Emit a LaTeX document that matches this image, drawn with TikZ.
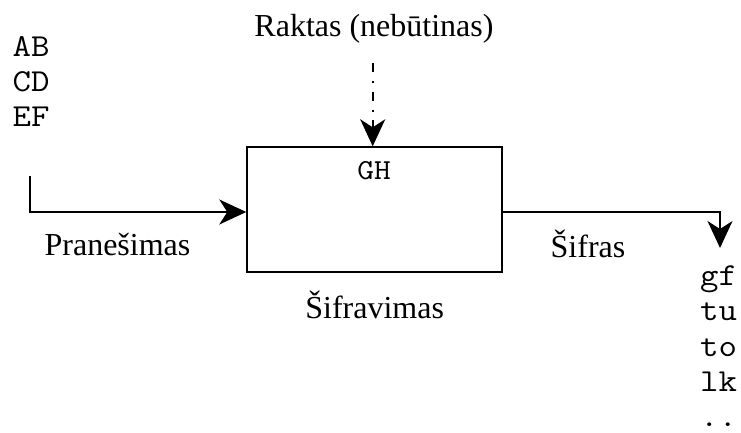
\documentclass[tikz,border=0pt]{standalone}
\usepackage{fontspec}
\setmainfont{Liberation Serif}
\newfontfamily\typewriter[FakeStretch=1.12]{Latin Modern Mono}
\usetikzlibrary{arrows.meta}
\begin{document}
\begin{tikzpicture}[x=1pt,y=-1pt,
  label/.style={font=\fontsize{32}{36}\selectfont, inner sep=0pt, anchor=base},
  listing/.style={font=\typewriter\fontsize{32}{35.2}\selectfont, inner sep=0pt, align=left, anchor=base west},
  process/.style={draw, line width=2pt, minimum width=254.4pt, minimum height=124.4pt, inner sep=0pt},
  tipstyle/.style={-{Stealth[length=27pt,width=25pt,inset=8pt]}},
  conn/.style={line width=2pt, tipstyle},
  keyline/.style={line width=2pt, tipstyle, dash pattern={on 9pt off 9pt on 2pt off 8.5pt}}]
  \useasboundingbox (0,0) rectangle (741,432);

  % encryption block
  \node[process] (box) at (374.5,209.5) {};
  \node[font=\typewriter\fontsize{29}{32}\selectfont, inner sep=0pt, anchor=base] (gh) at (374,179) {GH};

  % labels
  \node[label] (key) at (374,36) {Raktas (nebūtinas)};
  \node[label] (msg) at (117.5,255) {Pranešimas};
  \node[label] (cipher) at (588,257) {Šifras};
  \node[label] (proc) at (374.7,318) {Šifravimas};

  % plaintext and ciphertext (anchored at the baseline of the last line)
  \node[listing] (plain) at (12.5,126.5) {AB\\CD\\EF};
  \node[listing] (out) at (700,426.5) {gf\\tu\\to\\lk\\..};

  % connectors
  \coordinate (msgstart) at (29.5,175.5);
  \coordinate (keytop) at (372.7,63);
  \coordinate (outtip) at (720,248);
  \draw[conn] (msgstart) |- ([yshift=-2.5pt]box.west);
  \draw[keyline] (keytop) -- (keytop |- box.north);
  \draw[conn, line width=1.6pt] ([yshift=-2.5pt]box.east) -| (outtip);
\end{tikzpicture}
\end{document}
